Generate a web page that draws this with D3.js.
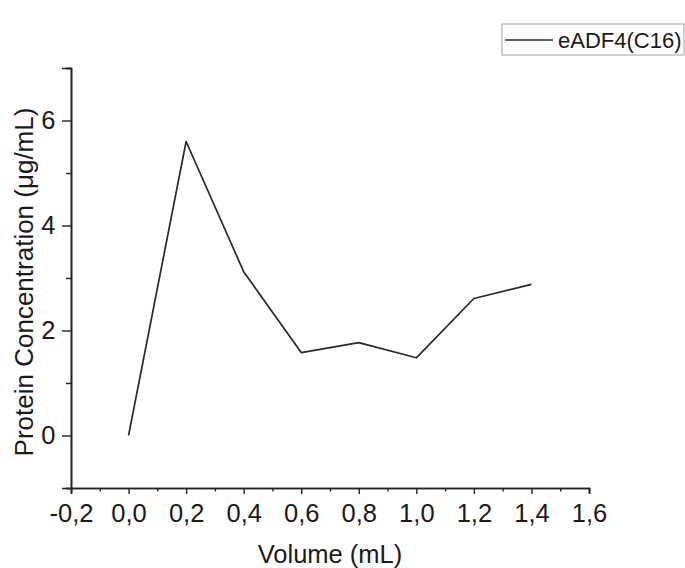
<!DOCTYPE html>
<head>
  <script src="https://d3js.org/d3.v7.min.js"></script>
  <style>
    body {
      margin: 0;
      overflow: hidden;
      background: #fff;
    }
    text {
      font-family: "Liberation Sans", Arial, sans-serif;
      fill: #1a1a1a;
    }
  </style>
</head>
<body>
  <svg width="685" height="568"></svg>
  <script>
    // volume fractions and measured concentration
    const volumes = [0.0, 0.2, 0.4, 0.6, 0.8, 1.0, 1.2, 1.4];
    const concentrations = [0.0, 5.60, 3.12, 1.58, 1.77, 1.48, 2.61, 2.88];
    const seriesName = 'eADF4(C16)';
    const xTicks = [-0.2, 0.0, 0.2, 0.4, 0.6, 0.8, 1.0, 1.2, 1.4, 1.6];
    const xMinorTicks = [-0.1, 0.1, 0.3, 0.5, 0.7, 0.9, 1.1, 1.3, 1.5];
    const yTicks = [0, 2, 4, 6];
    const yMinorTicks = [-1, 1, 3, 5, 7];

    const svg = d3.select('svg');
    const margin = { top: 68, right: 96, bottom: 80, left: 71 };
    const width = +svg.attr('width');
    const height = +svg.attr('height');
    const innerWidth = width - margin.left - margin.right;
    const innerHeight = height - margin.top - margin.bottom;

    const locale = d3.formatLocale({ decimal: ',', thousands: '.', grouping: [3], currency: ['', ''], minus: '-' });
    const fmt = locale.format('.1f');

    const xScale = d3.scaleLinear().domain([-0.2, 1.6]).range([0, innerWidth]);
    const yScale = d3.scaleLinear().domain([-1, 7]).range([innerHeight, 0]);

    const g = svg.append('g')
      .attr('transform', `translate(${margin.left},${margin.top})`);

    const styleAxis = sel => {
      sel.attr('font-family', null).attr('font-size', null);
      sel.select('.domain').attr('stroke', '#222').attr('stroke-width', 1.6);
      sel.selectAll('.tick line').attr('stroke', '#222').attr('stroke-width', 1.4);
      sel.selectAll('.tick text')
        .style('font-size', '25.5px')
        .attr('fill', '#1a1a1a');
    };

    // minor ticks first
    g.append('g')
      .attr('transform', `translate(0,${innerHeight})`)
      .call(d3.axisBottom(xScale).tickValues(xMinorTicks).tickSize(3.5).tickFormat(''))
      .call(styleAxis);
    g.append('g')
      .call(d3.axisLeft(yScale).tickValues(yMinorTicks).tickSize(5).tickFormat(''))
      .call(styleAxis);

    g.append('g')
      .attr('transform', `translate(0,${innerHeight})`)
      .call(d3.axisBottom(xScale).tickValues(xTicks).tickSize(6).tickPadding(9.5).tickFormat(fmt))
      .call(styleAxis);

    g.append('g')
      .call(d3.axisLeft(yScale).tickValues(yTicks).tickSize(9).tickPadding(6.5).tickFormat(d3.format('d')))
      .call(styleAxis);

    const data = volumes.map((v, i) => ({ x: v, y: concentrations[i] }));
    const line = d3.line().x(d => xScale(d.x)).y(d => yScale(d.y));

    g.append('path')
      .datum(data)
      .attr('fill', 'none')
      .attr('stroke', '#2a2a2a')
      .attr('stroke-width', 1.7)
      .attr('stroke-linejoin', 'round')
      .attr('d', line);

    // axis titles
    svg.append('text')
      .attr('x', margin.left + innerWidth / 2)
      .attr('y', 563)
      .attr('text-anchor', 'middle')
      .style('font-size', '25.5px')
      .text('Volume (mL)');

    svg.append('text')
      .attr('transform', `translate(33,282) rotate(-90)`)
      .attr('text-anchor', 'middle')
      .style('font-size', '26px')
      .text('Protein Concentration (\u03bcg/mL)');

    // legend
    const legend = svg.append('g').attr('transform', 'translate(502,24)');
    legend.append('rect')
      .attr('width', 182)
      .attr('height', 31)
      .attr('fill', '#fff')
      .attr('stroke', '#b0b0b0')
      .attr('stroke-width', 1.2);
    legend.append('line')
      .attr('x1', 3).attr('x2', 51)
      .attr('y1', 16).attr('y2', 16)
      .attr('stroke', '#2a2a2a')
      .attr('stroke-width', 1.6);
    legend.append('text')
      .attr('x', 56)
      .attr('y', 23.5)
      .style('font-size', '22px')
      .text(seriesName);
  </script>
</body>
